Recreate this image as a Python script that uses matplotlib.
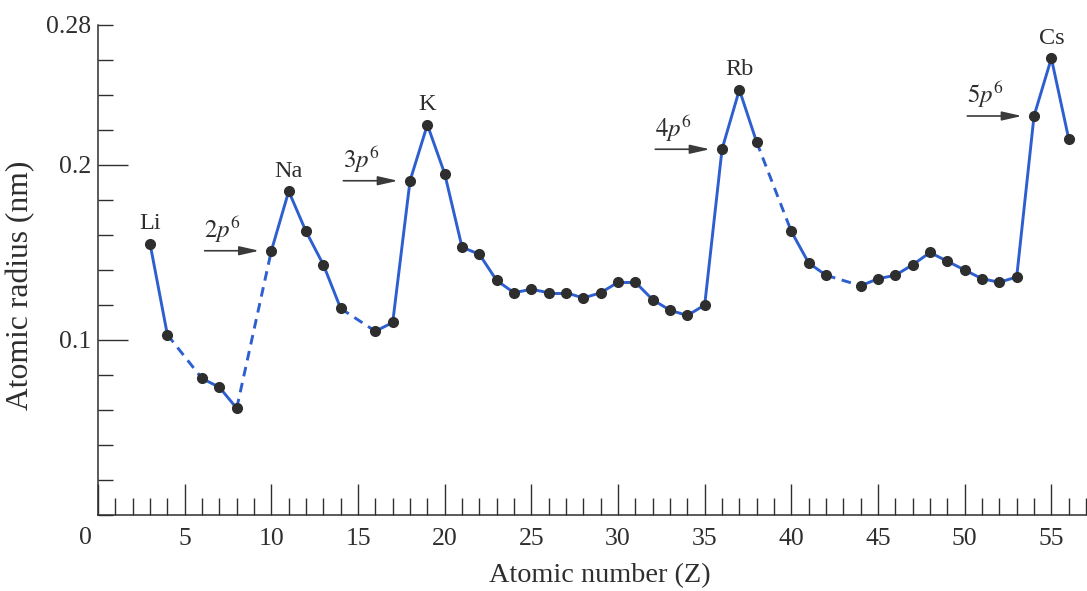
import numpy as np
import matplotlib
matplotlib.use('Agg')
import matplotlib.pyplot as plt
from matplotlib.ticker import MultipleLocator

# atomic number and radius (nm)
z = [3, 4, 6, 7, 8, 10, 11, 12, 13, 14, 16, 17, 18, 19, 20, 21, 22, 23, 24, 25,
     26, 27, 28, 29, 30, 31, 32, 33, 34, 35, 36, 37, 38, 40, 41, 42, 44, 45, 46,
     47, 48, 49, 50, 51, 52, 53, 54, 55, 56]
radius = [0.155, 0.103, 0.078, 0.073, 0.061, 0.151, 0.185, 0.162, 0.143, 0.118,
          0.105, 0.110, 0.191, 0.223, 0.195, 0.153, 0.149, 0.134, 0.127, 0.129,
          0.127, 0.127, 0.124, 0.127, 0.133, 0.133, 0.123, 0.117, 0.114, 0.120,
          0.209, 0.243, 0.213, 0.162, 0.144, 0.137, 0.131, 0.135, 0.137,
          0.143, 0.150, 0.145, 0.140, 0.135, 0.133, 0.136, 0.228, 0.261, 0.215]

alkali_names = ['Li', 'Na', 'K', 'Rb', 'Cs']
alkali_z = [3, 11, 19, 37, 55]
shell_labels = [r'$\mathrm{2}p^{6}$', r'$\mathrm{3}p^{6}$', r'$\mathrm{4}p^{6}$', r'$\mathrm{5}p^{6}$']
shell_z = [10, 18, 36, 54]

blue = '#2d5fd0'
dark = '#2e2e2e'
plt.rcParams['font.family'] = ['Liberation Serif', 'DejaVu Serif']
plt.rcParams['mathtext.fontset'] = 'stix'

fig = plt.figure(figsize=(10.87, 5.91), dpi=100)
ax = fig.add_axes([0.0902, 0.1286, 0.9089, 0.8291])

r_of = dict(zip(z, radius))

# solid where neighbours are consecutive, dashed across missing elements
for i in range(len(z) - 1):
    ls = '-' if z[i + 1] - z[i] == 1 else '--'
    line, = ax.plot(z[i:i + 2], radius[i:i + 2], color=blue, lw=2.1, ls=ls,
                    solid_capstyle='butt', zorder=2)
    if ls == '--':
        line.set_dashes((3.3, 2.3))
ax.plot(z, radius, 'o', color=dark, ms=7, zorder=3)

for name, zz in zip(alkali_names, alkali_z):
    ax.annotate(name, (zz, r_of[zz]), xytext=(0, 14.5), textcoords='offset points',
                ha='center', va='center', fontsize=17.5, color=dark)

for lab, zz in zip(shell_labels, shell_z):
    rr = r_of[zz]
    ax.annotate('', xy=(zz - 0.7, rr), xytext=(zz - 3.85, rr),
                arrowprops=dict(arrowstyle='-|>,head_length=0.75,head_width=0.17',
                                mutation_scale=16, color='#3a3a3a', lw=1.2,
                                shrinkA=0, shrinkB=0))
    ax.annotate(lab, (zz - 2.8, rr), xytext=(0, 15), textcoords='offset points',
                ha='center', va='center', fontsize=18, color=dark)

ax.set_xlim(0, 57)
ax.set_ylim(0, 0.28)
for s in ['top', 'right']:
    ax.spines[s].set_visible(False)
for s in ['left', 'bottom']:
    ax.spines[s].set_color(dark)
    ax.spines[s].set_linewidth(1.1)

ax.xaxis.set_minor_locator(MultipleLocator(1))
ax.set_xticks(range(0, 56, 5))
ax.set_xticklabels([''] + [str(v) for v in range(5, 56, 5)])
ax.set_yticks([0.1, 0.2, 0.28])
ax.set_yticklabels(['0.1', '0.2', '0.28'])
ax.yaxis.set_minor_locator(MultipleLocator(0.02))
ax.tick_params(axis='x', which='major', direction='in', length=22, width=1.0,
               color=dark, labelsize=18.5, labelcolor=dark, pad=9.5)
ax.tick_params(axis='x', which='minor', direction='in', length=12, width=1.0, color=dark)
ax.tick_params(axis='y', which='major', direction='in', length=21.6, width=1.0,
               color=dark, labelsize=18.5, labelcolor=dark, pad=5)
ax.tick_params(axis='y', which='minor', direction='in', length=10.8, width=1.0, color=dark)
ax.yaxis.get_major_ticks()[2].tick1line.set_markersize(10.8)
ax.text(-0.75, -0.0133, '0', ha='center', va='center', fontsize=18.5, color=dark)

ax.set_xlabel('Atomic number (Z)', fontsize=20.3, color=dark, va='center')
ax.xaxis.set_label_coords(0.508, -0.1245)
ax.set_ylabel('Atomic radius (nm)', fontsize=22.8, color=dark, va='center')
ax.yaxis.set_label_coords(-0.078, 0.469)

fig.savefig('out.png', dpi=100)
